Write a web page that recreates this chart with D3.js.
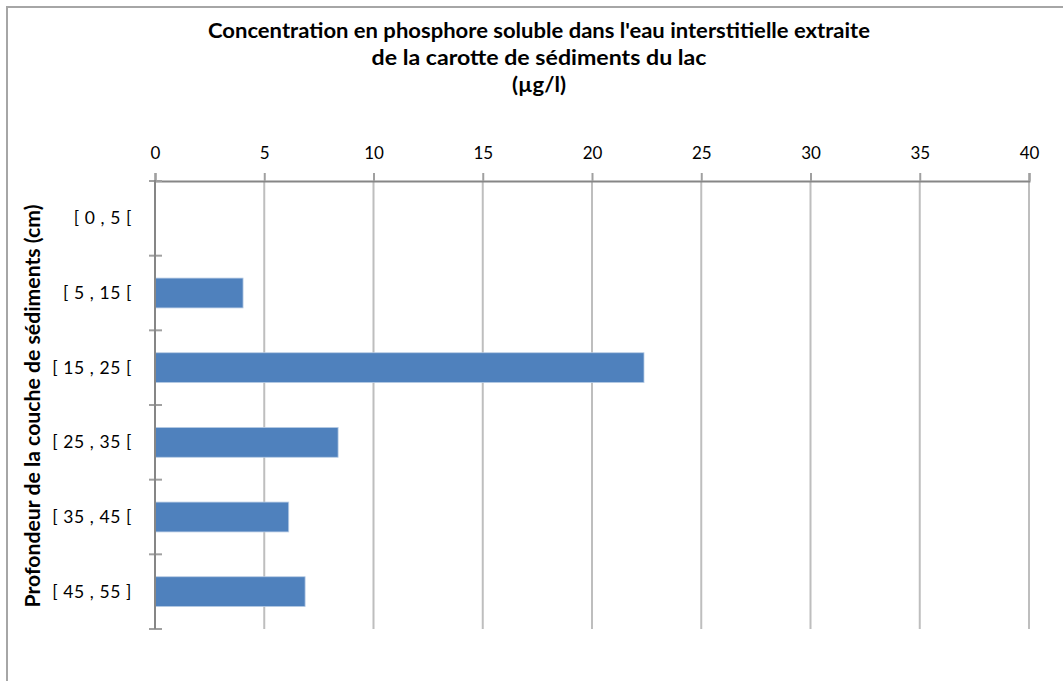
<!DOCTYPE html>
<html>
<head>
<meta charset="utf-8">
<script src="https://cdn.jsdelivr.net/npm/d3@7"></script>
<style>
  html, body { margin: 0; padding: 0; background: #fff; }
  svg { display: block; }
  text { font-family: Lato, "Open Sans", sans-serif; fill: #000; }
</style>
</head>
<body>
<svg id="chart" width="1063" height="681"></svg>
<script>
// Depth layers of the sediment core (cm)
const layers = ["[ 0 , 5 [", "[ 5 , 15 [", "[ 15 , 25 [", "[ 25 , 35 [", "[ 35 , 45 [", "[ 45 , 55 ]"];
// Soluble phosphorus in pore water (µg/l)
const phosphorus = [0, 4.03, 22.38, 8.38, 6.12, 6.87];
// Concentration axis ticks
const concTicks = [0, 5, 10, 15, 20, 25, 30, 35, 40];

const titleLines = [
  "Concentration en phosphore soluble dans l'eau interstitielle extraite",
  "de la carotte de sédiments du lac",
  "(µg/l)"
];
const depthTitle = "Profondeur de la couche de sédiments  (cm)";

const svg = d3.select("#chart");

// Outer chart frame
svg.append("rect")
  .attr("x", 7).attr("y", 7)
  .attr("width", 1100).attr("height", 700)
  .attr("fill", "#fff")
  .attr("stroke", "#a6a6a6")
  .attr("stroke-width", 2);

const plotL = 155, plotR = 1029, plotT = 181, plotB = 629;

const x = d3.scaleLinear().domain([0, 40]).range([plotL, plotR]);
const y = d3.scaleBand().domain(layers).range([plotT, plotB])
  .paddingInner(0.6).paddingOuter(0.3);

// Vertical gridlines
svg.append("g")
  .selectAll("line")
  .data(concTicks.filter(d => d > 0))
  .join("line")
  .attr("x1", d => x(d)).attr("x2", d => x(d))
  .attr("y1", plotT).attr("y2", plotB)
  .attr("stroke", "#bebebe")
  .attr("stroke-width", 2);

// Bars
svg.append("g")
  .selectAll("rect")
  .data(layers.map((l, i) => ({ l, v: phosphorus[i] })).filter(d => d.v > 0))
  .join("rect")
  .attr("x", x(0))
  .attr("y", d => y(d.l))
  .attr("width", d => x(d.v) - x(0))
  .attr("height", y.bandwidth())
  .attr("fill", "#4f81bd")
  .attr("stroke", "#b9cde5")
  .attr("stroke-width", 0.8);

// Top concentration axis
const xAxis = d3.axisTop(x).tickValues(concTicks).tickSize(8).tickPadding(14)
  .tickFormat(d3.format("d"));
const gx = svg.append("g").attr("transform", `translate(0,${plotT})`).call(xAxis);
gx.select(".domain").attr("stroke", "#868686").attr("stroke-width", 2);
gx.selectAll(".tick line").attr("stroke", "#a0a0a0").attr("stroke-width", 2);
gx.selectAll(".tick text")
  .style("font-family", "Lato, 'Open Sans', sans-serif")
  .attr("font-size", 17).attr("fill", "#000");

// Category boundary ticks on the depth axis
const bounds = layers.map(l => y(l) - y.step() * y.paddingInner() / 2);
bounds.push(plotB);
svg.append("g")
  .selectAll("line")
  .data(bounds)
  .join("line")
  .attr("x1", plotL - 6).attr("x2", plotL + 7)
  .attr("y1", d => d).attr("y2", d => d)
  .attr("stroke", "#a0a0a0")
  .attr("stroke-width", 2);

// Depth axis line
svg.append("line")
  .attr("x1", plotL).attr("x2", plotL)
  .attr("y1", plotT - 1).attr("y2", plotB)
  .attr("stroke", "#868686")
  .attr("stroke-width", 2);

// Depth labels
svg.append("g")
  .selectAll("text")
  .data(layers)
  .join("text")
  .attr("x", 132)
  .attr("y", d => y(d) + y.bandwidth() / 2)
  .attr("dy", "0.35em")
  .attr("text-anchor", "end")
  .attr("font-size", 17.5)
  .attr("letter-spacing", 0.6)
  .text(d => d);

// Title
const titleY = [38, 65, 92];
const titleW = [662, 335, 54];
svg.append("g")
  .selectAll("text")
  .data(titleLines)
  .join("text")
  .attr("x", 539)
  .attr("y", (d, i) => titleY[i])
  .attr("text-anchor", "middle")
  .attr("font-weight", "bold")
  .attr("font-size", 20)
  .attr("textLength", (d, i) => titleW[i])
  .attr("lengthAdjust", "spacingAndGlyphs")
  .text(d => d);

// Depth axis title
svg.append("text")
  .attr("transform", "translate(40,406) rotate(-90)")
  .attr("text-anchor", "middle")
  .attr("font-weight", "bold")
  .attr("font-size", 20)
  .attr("textLength", 403)
  .attr("lengthAdjust", "spacingAndGlyphs")
  .text(depthTitle);
</script>
</body>
</html>
